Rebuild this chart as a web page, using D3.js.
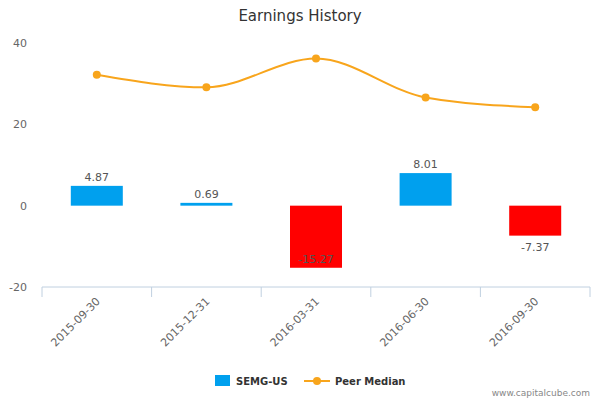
<!DOCTYPE html>
<html><head><meta charset="utf-8">
<script src="https://cdn.jsdelivr.net/npm/d3@7"></script>
<style>body{margin:0;background:#fff}text{font-family:"DejaVu Sans",sans-serif}</style>
</head><body><div id="chart"></div>
<script>
const categories = ["2015-09-30","2015-12-31","2016-03-31","2016-06-30","2016-09-30"];
const semgValues = [4.87, 0.69, -15.27, 8.01, -7.37];
const peerMedian = [32.2, 29.1, 36.2, 26.6, 24.2];
const yTicks = [-20, 0, 20, 40];

const W = 600, H = 400;
const svg = d3.select("#chart").append("svg").attr("width", W).attr("height", H);

const x = d3.scaleBand().domain(categories).range([42, 590]);
const y = d3.scaleLinear().domain([-20, 40]).range([287, 43]);

svg.append("text").attr("x", 300).attr("y", 21).attr("text-anchor", "middle")
  .style("font-size", "15px").attr("fill", "#333").text("Earnings History");

// y tick labels
svg.selectAll(".yt").data(yTicks).enter().append("text")
  .attr("x", 27).attr("y", d => y(d) + 4).attr("text-anchor", "end")
  .style("font-size", "11px").attr("fill", "#666").text(d => d);

// x axis
svg.append("line").attr("x1", 42).attr("x2", 590).attr("y1", 287).attr("y2", 287)
  .attr("stroke", "#c0d0e0");
const bounds = categories.map(c => x(c)).concat([590]);
svg.selectAll(".tk").data(bounds).enter().append("line")
  .attr("x1", d => d).attr("x2", d => d).attr("y1", 287).attr("y2", 297).attr("stroke", "#c0d0e0");
svg.selectAll(".xl").data(categories).enter().append("text")
  .attr("transform", d => `translate(${x(d) + x.bandwidth()/2 + 4},${302}) rotate(-45)`)
  .attr("text-anchor", "end").style("font-size", "11px").attr("fill", "#666").text(d => d);

// bars
const bw = 52;
svg.selectAll(".bar").data(categories).enter().append("rect")
  .attr("x", (d) => x(d) + x.bandwidth()/2 - bw/2).attr("width", bw)
  .attr("y", (d, i) => y(Math.max(0, semgValues[i])))
  .attr("height", (d, i) => Math.max(2, Math.abs(y(semgValues[i]) - y(0))))
  .attr("fill", (d, i) => semgValues[i] >= 0 ? "#00a0ee" : "#ff0000");

svg.selectAll(".bl").data(categories).enter().append("text")
  .attr("x", d => x(d) + x.bandwidth()/2)
  .attr("y", (d, i) => semgValues[i] >= 0 ? y(semgValues[i]) - 5 : Math.min(y(semgValues[i]) + 15, 263))
  .attr("text-anchor", "middle").style("font-size", "11px")
  .attr("fill", (d, i) => semgValues[i] < -12 ? "#555" : "#555")
  .text((d, i) => semgValues[i].toFixed(2));

// peer median line
const line = d3.line().x((d, i) => x(categories[i]) + x.bandwidth()/2).y(d => y(d)).curve(d3.curveMonotoneX);
svg.append("path").datum(peerMedian).attr("d", line).attr("fill", "none")
  .attr("stroke", "#f8a51c").attr("stroke-width", 2);
svg.selectAll(".pt").data(peerMedian).enter().append("circle")
  .attr("cx", (d, i) => x(categories[i]) + x.bandwidth()/2).attr("cy", d => y(d)).attr("r", 4)
  .attr("fill", "#f8a51c");

// legend
svg.append("rect").attr("x", 215).attr("y", 375).attr("width", 15).attr("height", 11).attr("fill", "#00a0ee");
svg.append("text").attr("x", 236).attr("y", 385).style("font-size", "10px").style("font-weight", "bold")
  .attr("fill", "#333").text("SEMG-US");
svg.append("line").attr("x1", 304).attr("x2", 330).attr("y1", 381).attr("y2", 381).attr("stroke", "#f8a51c").attr("stroke-width", 2);
svg.append("circle").attr("cx", 317).attr("cy", 381).attr("r", 4).attr("fill", "#f8a51c");
svg.append("text").attr("x", 335).attr("y", 385).style("font-size", "10px").style("font-weight", "bold")
  .attr("fill", "#333").text("Peer Median");

svg.append("text").attr("x", 590).attr("y", 396).attr("text-anchor", "end")
  .style("font-size", "9px").attr("fill", "#888").text("www.capitalcube.com");
</script></body></html>
